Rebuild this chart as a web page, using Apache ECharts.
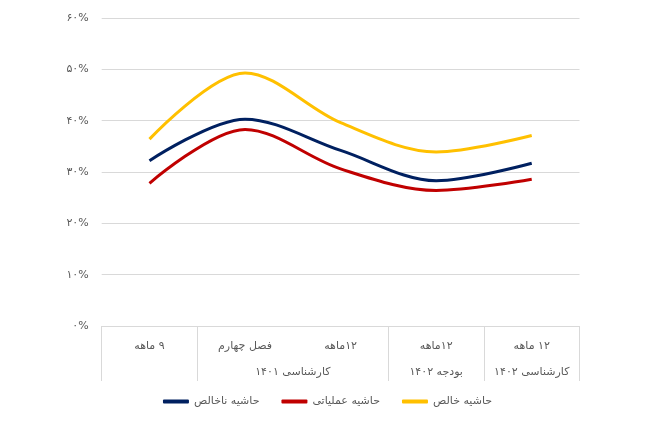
<!DOCTYPE html>
<html><head><meta charset="utf-8">
<script src="https://cdn.jsdelivr.net/npm/echarts@6/dist/echarts.min.js"></script>
<style>html,body{margin:0;padding:0;background:#fff}#c{width:655px;height:446px}</style>
</head><body><div id="c"></div>
<script>
const categories = ['۹ ماهه', 'فصل چهارم', '۱۲ماهه', '۱۲ماهه', '۱۲ ماهه'];
const groupLabels = ['', 'کارشناسی ۱۴۰۱', 'بودجه ۱۴۰۲', 'کارشناسی ۱۴۰۲'];
const groupCenters = [0.5, 2, 3.5, 4.5];
const groupBounds = [0, 1, 3, 4, 5];
const seriesNames = ['حاشیه ناخالص', 'حاشیه عملیاتی', 'حاشیه خالص'];
const grossMargin = [32.2, 40.3, 34.2, 28.3, 31.7];
const operatingMargin = [27.8, 38.3, 30.6, 26.4, 28.6];
const netMargin = [36.4, 49.3, 39.6, 33.9, 37.1];
const colors = ['#002060', '#C00000', '#FFC000'];

const fa = s => String(s).replace(/\d/g, d => '۰۱۲۳۴۵۶۷۸۹'[d]);
const rtl = s => '\u202B' + s + '\u202C';
const font = "'DejaVu Sans', sans-serif";
const chart = echarts.init(document.getElementById('c'));
chart.setOption({
  animation: false,
  grid: { left: 101.7, right: 75.5, top: 18, bottom: 120, containLabel: false },
  legend: {
    data: seriesNames, left: 'center', top: 391, icon: 'roundRect',
    itemWidth: 26, itemHeight: 4, itemGap: 22,
    textStyle: { fontFamily: font, fontSize: 11, color: '#595959' }
  },
  xAxis: [{
    type: 'category', data: categories, boundaryGap: true,
    axisLine: { show: true, lineStyle: { color: '#d9d9d9' } },
    axisTick: { show: false },
    axisLabel: { margin: 15, fontFamily: font, fontSize: 11, color: '#595959', interval: 0, formatter: v => rtl(v) }
  }, {
    type: 'value', min: 0, max: 5, position: 'bottom',
    axisLine: { show: false },
    splitLine: { show: false },
    axisTick: { show: true, customValues: groupBounds, length: 55, lineStyle: { color: '#d9d9d9' } },
    axisLabel: {
      show: true, customValues: groupCenters, margin: 41, fontFamily: font, fontSize: 11, color: '#595959',
      formatter: v => groupLabels[groupCenters.indexOf(v)] || ''
    }
  }],
  yAxis: {
    type: 'value', min: 0, max: 60, interval: 10,
    axisLine: { show: false }, axisTick: { show: false },
    splitLine: { lineStyle: { color: '#d9d9d9' } },
    axisLabel: { margin: 13, fontFamily: font, fontSize: 11, color: '#595959', formatter: v => fa(v) + '%' }
  },
  series: [
    { name: seriesNames[0], type: 'line', data: grossMargin, smooth: 0.33, symbol: 'none', lineStyle: { width: 3, color: colors[0] }, itemStyle: { color: colors[0] } },
    { name: seriesNames[1], type: 'line', data: operatingMargin, smooth: 0.33, symbol: 'none', lineStyle: { width: 3, color: colors[1] }, itemStyle: { color: colors[1] } },
    { name: seriesNames[2], type: 'line', data: netMargin, smooth: 0.33, symbol: 'none', lineStyle: { width: 3, color: colors[2] }, itemStyle: { color: colors[2] } }
  ]
});
</script></body></html>
